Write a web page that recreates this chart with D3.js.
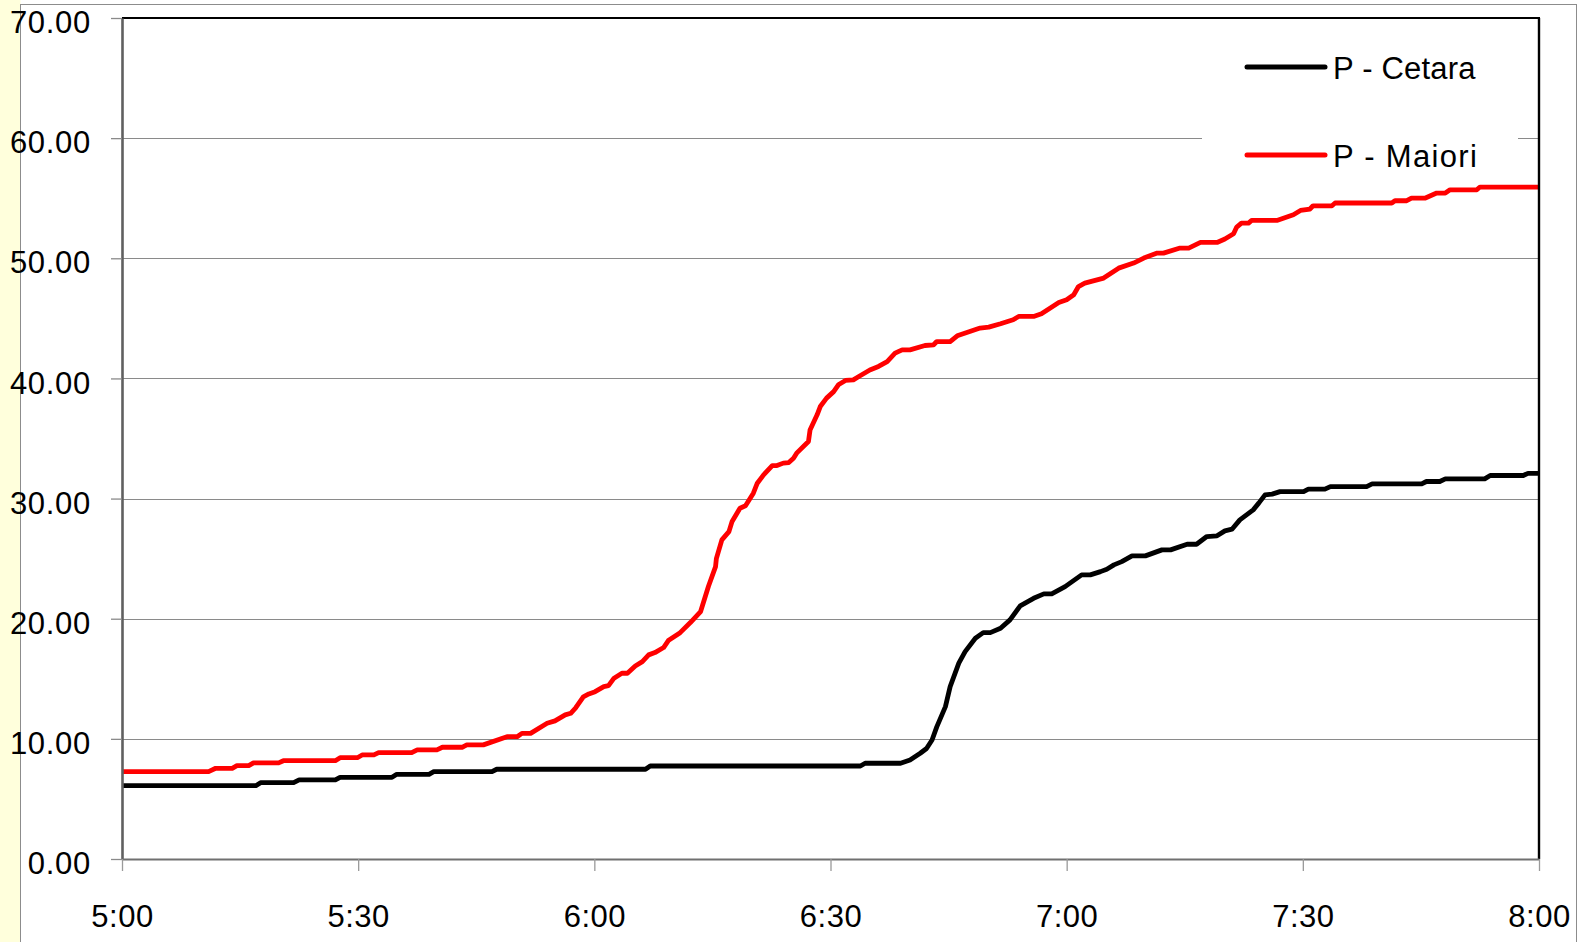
<!DOCTYPE html>
<html>
<head>
<meta charset="utf-8">
<script src="https://cdn.jsdelivr.net/npm/d3@7"></script>
<style>
  html, body { margin: 0; padding: 0; background: #ffffff; }
  svg { display: block; }
  text { font-family: "Liberation Sans", Arial, sans-serif; fill: #000; }
</style>
</head>
<body>
<svg id="chart" width="1579" height="942"></svg>
<script>
// Cumulative rainfall (mm) — minutes after 5:00 and value at each breakpoint
const seriesNames = ["P - Cetara", "P - Maiori"];
const seriesColors = ["#000000", "#ff0000"];

const cetaraMinutes = [0, 17, 17.6, 21.8, 22.5, 27.1, 27.7, 34.3, 34.9, 39,
  39.6, 47, 47.6, 66.5, 67.1, 93.8, 94.4, 98.9, 100.1, 101.4,
  102.2, 102.9, 103.5, 104.6, 105.2, 106.3, 107.1, 108.4, 109.4, 110.3,
  111.6, 112.8, 114.1, 115.8, 117.1, 118.1, 119.8, 121.9, 123, 124.3,
  125.1, 126, 127, 128.3, 130, 132.1, 133.2, 135.3, 136.5, 137.8,
  139.1, 140.1, 141, 142, 143.7, 144.4, 145.2, 146.1, 147.1, 150.1,
  150.7, 152.8, 153.5, 158.1, 158.8, 165.1, 165.7, 167.4, 168.1, 173.1,
  173.8, 178, 178.6, 180];
const cetaraValues = [6.1, 6.1, 6.35, 6.35, 6.58, 6.58, 6.8, 6.8, 7.05, 7.05,
  7.27, 7.27, 7.47, 7.47, 7.74, 7.74, 7.97, 7.97, 8.24, 8.8,
  9.2, 9.9, 11.0, 12.68, 14.35, 16.3, 17.26, 18.38, 18.84, 18.84,
  19.2, 19.9, 21.07, 21.7, 22.07, 22.07, 22.67, 23.65, 23.65, 23.92,
  24.12, 24.48, 24.75, 25.23, 25.23, 25.73, 25.73, 26.2, 26.2, 26.84,
  26.9, 27.31, 27.45, 28.23, 29.06, 29.62, 30.31, 30.37, 30.58, 30.58,
  30.78, 30.78, 31.0, 31.0, 31.22, 31.22, 31.42, 31.42, 31.64, 31.64,
  31.92, 31.92, 32.1, 32.1];

const maioriMinutes = [0, 11.0, 11.9, 14.0, 14.6, 16.1, 16.7, 19.9, 20.5, 27.1,
  27.7, 29.9, 30.5, 32.0, 32.6, 36.8, 37.5, 40.0, 40.7, 43.2,
  43.8, 45.9, 48.9, 50.2, 50.8, 51.9, 54.0, 55.0, 56.3, 57.0,
  57.6, 58.6, 59.3, 60.1, 61.2, 61.8, 62.5, 63.5, 64.2, 65.2,
  66.1, 66.9, 67.7, 68.8, 69.4, 70.9, 72.2, 73.5, 74.5, 75.4,
  75.5, 76.2, 77.1, 77.5, 78.5, 79.2, 80.2, 80.7, 81.5, 82.6,
  83.2, 84.0, 84.7, 85.3, 85.7, 87.2, 87.4, 88.3, 88.7, 89.5,
  90.4, 91.0, 91.9, 92.9, 93.6, 95.0, 96.1, 97.2, 98.2, 99.1,
  100.1, 102.0, 103.1, 103.5, 105.2, 106.1, 109.0, 110.1, 111.6, 113.2,
  113.9, 115.8, 116.8, 119.0, 120.0, 120.9, 121.5, 122.3, 124.7, 126.6,
  128.5, 129.8, 131.5, 132.3, 134.4, 135.5, 137.0, 139.1, 140.1, 141.2,
  141.6, 142.2, 143.1, 143.5, 146.7, 148.8, 149.7, 150.9, 151.3, 153.7,
  154.1, 161.3, 161.7, 163.2, 163.8, 165.5, 167.0, 168.1, 168.7, 172.1,
  172.5, 180];
const maioriValues = [7.27, 7.27, 7.55, 7.55, 7.77, 7.77, 8.0, 8.0, 8.18, 8.18,
  8.43, 8.43, 8.66, 8.66, 8.85, 8.85, 9.08, 9.08, 9.3, 9.3,
  9.5, 9.5, 10.18, 10.18, 10.46, 10.46, 11.3, 11.5, 12.0, 12.13,
  12.55, 13.5, 13.74, 13.93, 14.35, 14.43, 15.05, 15.46, 15.46, 16.07,
  16.43, 16.99, 17.18, 17.6, 18.18, 18.84, 19.68, 20.6, 22.7, 24.34,
  25.0, 26.56, 27.25, 28.1, 29.2, 29.4, 30.45, 31.28, 31.97, 32.75,
  32.75, 32.95, 33.0, 33.36, 33.78, 34.75, 35.7, 36.97, 37.66, 38.36,
  38.9, 39.47, 39.83, 39.88, 40.16, 40.7, 41.0, 41.4, 42.1, 42.38,
  42.38, 42.74, 42.8, 43.07, 43.07, 43.55, 44.19, 44.27, 44.55, 44.88,
  45.16, 45.16, 45.38, 46.32, 46.55, 46.96, 47.65, 47.93, 48.35, 49.18,
  49.6, 50.02, 50.43, 50.43, 50.85, 50.85, 51.32, 51.32, 51.6, 52.04,
  52.6, 52.93, 52.93, 53.15, 53.15, 53.62, 53.98, 54.1, 54.37, 54.37,
  54.6, 54.6, 54.79, 54.79, 55.0, 55.0, 55.43, 55.43, 55.7, 55.7,
  55.93, 55.93];

const xTickLabels = ["5:00", "5:30", "6:00", "6:30", "7:00", "7:30", "8:00"];
const yTicks = [0, 10, 20, 30, 40, 50, 60, 70];

// ---- layout ----
const W = 1579, H = 942;
const plot = { left: 122, right: 1539, top: 18, bottom: 859 };
const FONT = 31;

const svg = d3.select("#chart");

// time helpers
const day = new Date(2000, 0, 1, 5, 0, 0);
const atMinute = m => new Date(day.getTime() + m * 60000);
const parseHM = d3.timeParse("%H:%M");
const tickDates = xTickLabels.map(s => {
  const p = parseHM(s);
  return new Date(2000, 0, 1, p.getHours(), p.getMinutes());
});

const x = d3.scaleTime()
  .domain([tickDates[0], tickDates[tickDates.length - 1]])
  .range([plot.left, plot.right]);
const y = d3.scaleLinear()
  .domain([0, 70])
  .range([plot.bottom, plot.top]);

// page background: pale yellow strip on the left and thin chart-area border
svg.append("rect").attr("x", 0).attr("y", 0).attr("width", W).attr("height", H).attr("fill", "#ffffff");
svg.append("rect").attr("x", 0).attr("y", 0).attr("width", 20.5).attr("height", H).attr("fill", "#ffffdc");
svg.append("rect")
  .attr("x", 20.5).attr("y", 4.5).attr("width", 1556).attr("height", H + 10)
  .attr("fill", "none").attr("stroke", "#8c8c8c").attr("stroke-width", 1);

// horizontal gridlines
svg.append("g")
  .selectAll("line")
  .data(yTicks.filter(v => v > 0 && v < 70))
  .join("line")
  .attr("x1", plot.left).attr("x2", plot.right)
  .attr("y1", d => Math.round(y(d)) + 0.5).attr("y2", d => Math.round(y(d)) + 0.5)
  .attr("stroke", "#8a8a8a").attr("stroke-width", 1.2);

// legend box (white, hides gridlines beneath it)
svg.append("rect")
  .attr("x", 1202).attr("y", 32).attr("width", 316).attr("height", 150)
  .attr("fill", "#ffffff");

const legendRows = [67, 155];
const legendSpacing = ["0.2px", "1.3px"];
const legend = svg.append("g");
seriesNames.forEach((name, i) => {
  legend.append("line")
    .attr("x1", 1247).attr("x2", 1325)
    .attr("y1", legendRows[i]).attr("y2", legendRows[i])
    .attr("stroke", seriesColors[i]).attr("stroke-width", 5)
    .attr("stroke-linecap", "round");
  legend.append("text")
    .attr("x", 1333).attr("y", legendRows[i] + 12)
    .attr("font-size", FONT)
    .attr("letter-spacing", legendSpacing[i])
    .text(name);
});

// data lines
const line = d3.line()
  .x(d => x(atMinute(d[0])))
  .y(d => y(d[1]));

const series = [
  d3.zip(cetaraMinutes, cetaraValues),
  d3.zip(maioriMinutes, maioriValues)
];

svg.append("g")
  .selectAll("path")
  .data(series)
  .join("path")
  .attr("d", line)
  .attr("fill", "none")
  .attr("stroke", (d, i) => seriesColors[i])
  .attr("stroke-width", 4.8)
  .attr("stroke-linejoin", "round")
  .attr("stroke-linecap", "butt");

// frame: top and right edges
svg.append("line")
  .attr("x1", plot.left).attr("x2", plot.right + 1)
  .attr("y1", plot.top).attr("y2", plot.top)
  .attr("stroke", "#000").attr("stroke-width", 2);
svg.append("line")
  .attr("x1", plot.right).attr("x2", plot.right)
  .attr("y1", plot.top).attr("y2", plot.bottom)
  .attr("stroke", "#000").attr("stroke-width", 2.4);

// y axis
const yAxis = svg.append("g")
  .attr("transform", `translate(${plot.left},0)`)
  .call(d3.axisLeft(y)
    .tickValues(yTicks)
    .tickFormat(d3.format(".2f"))
    .tickSize(11)
    .tickSizeOuter(0)
    .tickPadding(20));
yAxis.select(".domain").attr("stroke", "#606060").attr("stroke-width", 2.6);
yAxis.selectAll(".tick line").attr("stroke", "#8a8a8a").attr("stroke-width", 1.3);
yAxis.selectAll(".tick text")
  .attr("font-size", FONT)
  .attr("font-family", "Liberation Sans, Arial, sans-serif")
  .attr("letter-spacing", "0.7px")
  .attr("fill", "#000")
  .attr("dy", "0.47em");

// x axis
const xAxis = svg.append("g")
  .attr("transform", `translate(0,${plot.bottom})`)
  .call(d3.axisBottom(x)
    .tickValues(tickDates)
    .tickFormat((d, i) => xTickLabels[i])
    .tickSize(12)
    .tickSizeOuter(0)
    .tickPadding(34));
xAxis.select(".domain").attr("stroke", "#707070").attr("stroke-width", 2.2);
xAxis.selectAll(".tick line").attr("stroke", "#9a9a9a").attr("stroke-width", 1.3);
xAxis.selectAll(".tick text")
  .attr("font-size", FONT)
  .attr("font-family", "Liberation Sans, Arial, sans-serif")
  .attr("letter-spacing", "0.5px")
  .attr("fill", "#000")
  .attr("dy", "0.71em");
</script>
</body>
</html>
